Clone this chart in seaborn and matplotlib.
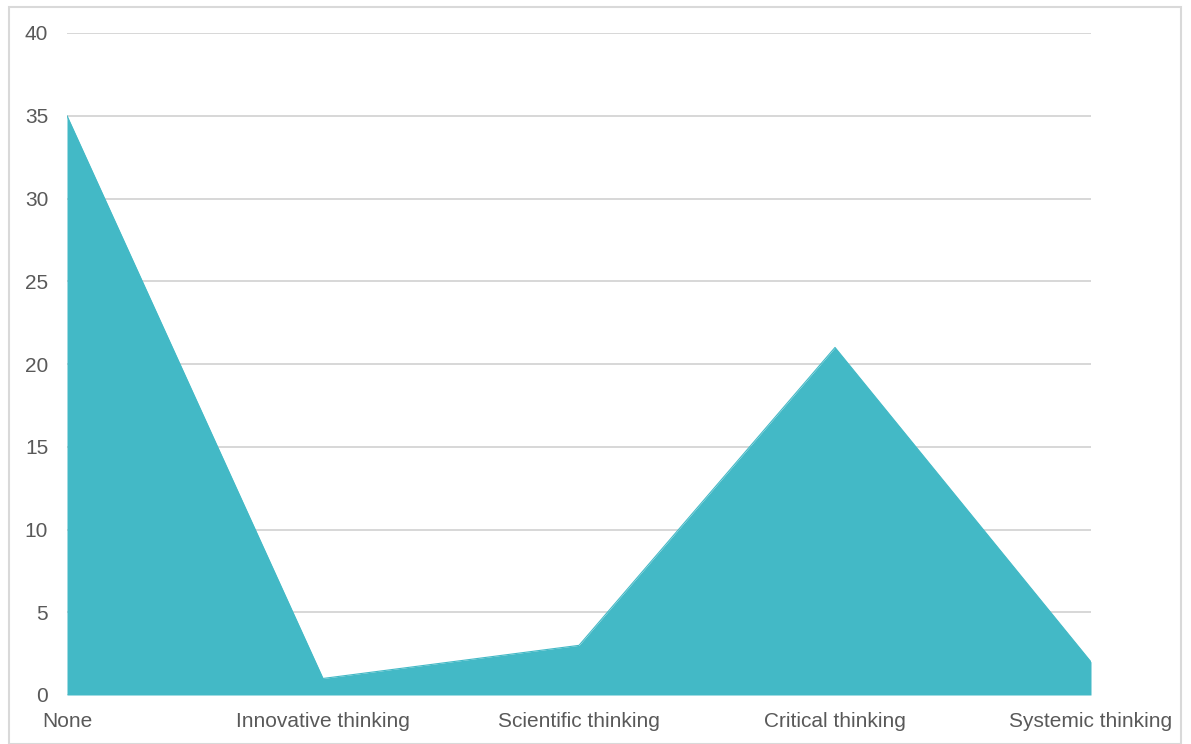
import matplotlib
matplotlib.use("Agg")
import matplotlib.pyplot as plt
from matplotlib.patches import Rectangle
import seaborn as sns
import pandas as pd

categories = ["None", "Innovative thinking", "Scientific thinking",
              "Critical thinking", "Systemic thinking"]
counts = [35, 1, 3, 21, 2]
y_ticks = [0, 5, 10, 15, 20, 25, 30, 35, 40]

df = pd.DataFrame({"pos": range(len(categories)), "count": counts})

sns.set_theme(style="white")
plt.rcParams["font.family"] = ["Liberation Sans", "DejaVu Sans"]

fill_color = "#43B9C6"
text_color = "#595959"
grid_color = "#D4D4D4"

fig = plt.figure(figsize=(11.91, 7.44), dpi=100)
ax = fig.add_axes([67 / 1191, 49 / 744, 1024 / 1191, 662 / 744])

# gridlines
for t in y_ticks:
    ax.axhline(t, color=grid_color, lw=1.3, zorder=0)

sns.lineplot(data=df, x="pos", y="count", ax=ax, color=fill_color,
             lw=0.8, zorder=2)
ax.fill_between(df["pos"], df["count"], 0, color=fill_color, lw=0, zorder=2)

ax.set_xlim(0, len(categories) - 1)
ax.set_ylim(0, 40)
ax.set_yticks(y_ticks)
ax.set_yticklabels([str(t) for t in y_ticks])
ax.set_xticks(list(range(len(categories))))
ax.set_xticklabels(categories)
ax.set_xlabel("")
ax.set_ylabel("")

for s in ax.spines.values():
    s.set_visible(False)

ax.tick_params(axis="y", length=0, pad=13.5, labelsize=15, labelcolor=text_color)
ax.tick_params(axis="x", length=4, width=0.8, color=grid_color, pad=8.5,
               labelsize=15, labelcolor=text_color)

# outer frame
fig.patches.append(Rectangle((9 / 1191, 0), 1172 / 1191, 737 / 744,
                             transform=fig.transFigure, fill=False,
                             edgecolor="#D9D9D9", lw=1.5))

fig.savefig("out.png", dpi=100, facecolor="white")
